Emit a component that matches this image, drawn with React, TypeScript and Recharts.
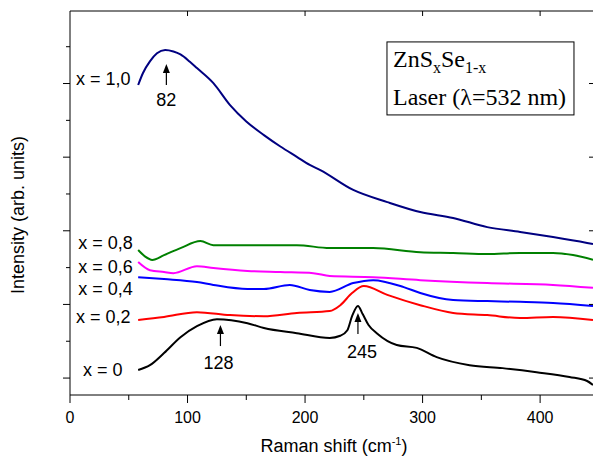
import React from 'react';
import { LineChart, Line, XAxis, YAxis, ReferenceDot, ReferenceLine } from 'recharts';

// Raman shift (cm-1) / intensity (arb. units) readings for each composition
const x10 = [
  { x: 58, y: 7.96 }, { x: 62, y: 8.28 }, { x: 68, y: 8.6 }, { x: 74, y: 8.82 }, { x: 81, y: 8.91 },
  { x: 88, y: 8.87 }, { x: 94, y: 8.79 }, { x: 102, y: 8.59 }, { x: 108, y: 8.42 }, { x: 122, y: 8.01 },
  { x: 136, y: 7.42 }, { x: 150, y: 6.97 }, { x: 165, y: 6.6 }, { x: 179, y: 6.29 }, { x: 193, y: 6.01 },
  { x: 204, y: 5.79 }, { x: 213, y: 5.65 }, { x: 241, y: 5.11 }, { x: 270, y: 4.78 }, { x: 298, y: 4.51 },
  { x: 326, y: 4.35 }, { x: 355, y: 4.1 }, { x: 383, y: 3.97 }, { x: 411, y: 3.83 }, { x: 440, y: 3.67 },
  { x: 445, y: 3.64 },
];
const x08 = [
  { x: 58, y: 3.48 }, { x: 64, y: 3.3 }, { x: 70, y: 3.21 }, { x: 80, y: 3.34 }, { x: 94, y: 3.53 },
  { x: 111, y: 3.72 }, { x: 122, y: 3.61 }, { x: 136, y: 3.61 }, { x: 165, y: 3.61 }, { x: 193, y: 3.61 },
  { x: 221, y: 3.53 }, { x: 258, y: 3.53 }, { x: 298, y: 3.42 }, { x: 326, y: 3.4 }, { x: 355, y: 3.37 },
  { x: 383, y: 3.4 }, { x: 411, y: 3.4 }, { x: 428, y: 3.34 }, { x: 445, y: 3.21 },
];
const x06 = [
  { x: 58, y: 3.15 }, { x: 68, y: 2.93 }, { x: 80, y: 2.88 }, { x: 88, y: 2.85 }, { x: 108, y: 3.04 },
  { x: 122, y: 2.99 }, { x: 151, y: 2.91 }, { x: 179, y: 2.88 }, { x: 207, y: 2.85 }, { x: 221, y: 2.77 },
  { x: 258, y: 2.74 }, { x: 298, y: 2.66 }, { x: 355, y: 2.58 }, { x: 411, y: 2.53 }, { x: 445, y: 2.45 },
];
const x04 = [
  { x: 58, y: 2.74 }, { x: 80, y: 2.69 }, { x: 108, y: 2.61 }, { x: 122, y: 2.53 }, { x: 151, y: 2.42 },
  { x: 165, y: 2.42 }, { x: 187, y: 2.53 }, { x: 204, y: 2.39 }, { x: 221, y: 2.34 }, { x: 241, y: 2.58 },
  { x: 258, y: 2.66 }, { x: 284, y: 2.47 }, { x: 298, y: 2.31 }, { x: 326, y: 2.12 }, { x: 355, y: 2.09 },
  { x: 383, y: 2.07 }, { x: 411, y: 2.04 }, { x: 445, y: 1.96 },
];
const x02 = [
  { x: 58, y: 1.58 }, { x: 80, y: 1.66 }, { x: 108, y: 1.79 }, { x: 136, y: 1.71 }, { x: 165, y: 1.68 },
  { x: 193, y: 1.77 }, { x: 221, y: 1.82 }, { x: 230, y: 1.98 }, { x: 240, y: 2.31 }, { x: 250, y: 2.5 },
  { x: 270, y: 2.26 }, { x: 298, y: 1.98 }, { x: 326, y: 1.77 }, { x: 355, y: 1.71 }, { x: 383, y: 1.63 },
  { x: 411, y: 1.66 }, { x: 445, y: 1.58 },
];
const x00 = [
  { x: 58, y: 0.22 }, { x: 68, y: 0.35 }, { x: 80, y: 0.68 }, { x: 94, y: 1.11 }, { x: 108, y: 1.41 },
  { x: 125, y: 1.6 }, { x: 151, y: 1.49 }, { x: 165, y: 1.36 }, { x: 193, y: 1.22 }, { x: 221, y: 1.09 },
  { x: 230, y: 1.15 }, { x: 236, y: 1.3 }, { x: 240, y: 1.68 }, { x: 245, y: 1.96 }, { x: 249, y: 1.74 },
  { x: 254, y: 1.44 }, { x: 261, y: 1.22 }, { x: 278, y: 0.9 }, { x: 295, y: 0.82 }, { x: 312, y: 0.57 },
  { x: 340, y: 0.35 }, { x: 368, y: 0.27 }, { x: 397, y: 0.16 }, { x: 425, y: 0.03 }, { x: 440, y: -0.08 },
  { x: 445, y: -0.19 },
];

const seriesData = [x10, x08, x06, x04, x02, x00];
const seriesColors = ['#000080', '#008000', '#FF00FF', '#0000FF', '#FF0000', '#000000'];
const seriesLabels = ['x = 1,0', 'x = 0,8', 'x = 0,6', 'x = 0,4', 'x = 0,2', 'x = 0'];
const labelX = [5, 7, 7, 7, 5, 11];
const labelY = [8.13, 3.67, 3.02, 2.42, 1.66, 0.22];

const peakShift = [82, 128, 245];
const peakTip = [8.53, 1.44, 1.77];
const peakText = ['82', '128', '245'];

const xTicks = [0, 50, 100, 150, 200, 250, 300, 350, 400];
const xTopTicks = [100, 200, 300, 400];
const yTicks = [0, 1, 2, 3, 4, 5, 6, 7, 8, 9];
const yRightTicks = [0, 2, 4, 6, 8];
const X_DOMAIN = [0, 445];
const Y_DOMAIN = [-0.46, 9.97];

const SANS = "'Liberation Sans', Arial, sans-serif";
const SERIF = "'Liberation Serif', 'Times New Roman', serif";

const BottomTick = (p: any) => {
  const major = p.payload.value % 100 === 0;
  return (
    <g>
      <line x1={p.x} x2={p.x} y1={p.y} y2={p.y + (major ? 8 : 5)} stroke="#000" />
      {major && (
        <text x={p.x} y={p.y + 28} textAnchor="middle" fontSize={16} fontFamily={SANS} fill="#000">
          {p.payload.value}
        </text>
      )}
    </g>
  );
};
const LeftTick = (p: any) => {
  const major = p.payload.value % 2 === 0;
  return <line x1={p.x} x2={p.x - (major ? 7 : 4)} y1={p.y} y2={p.y} stroke="#000" />;
};
const TopTickShape = (p: any) => <line x1={p.cx} x2={p.cx} y1={p.cy} y2={p.cy + 5} stroke="#000" />;
const RightTickShape = (p: any) => <line x1={p.cx} x2={p.cx - 4} y1={p.cy} y2={p.cy} stroke="#000" />;

const XTitle = () => (
  <text x={334} y={452} textAnchor="middle" fontSize={18} fontFamily={SANS} fill="#000">
    Raman shift (cm
    <tspan dy={-7} fontSize={11}>-1</tspan>
    <tspan dy={7}>)</tspan>
  </text>
);
const YTitle = () => (
  <text x={24} y={215} transform="rotate(-90 24 215)" textAnchor="middle" fontSize={18} fontFamily={SANS} fill="#000">
    Intensity (arb. units)
  </text>
);

const makeArrow = (text: string, off: number, dx: number) => (p: any) => (
  <g>
    <line x1={p.cx} x2={p.cx} y1={p.cy + 6} y2={p.cy + 21} stroke="#000" strokeWidth={1.2} />
    <path d={`M${p.cx},${p.cy} L${p.cx - 3.5},${p.cy + 9} L${p.cx + 3.5},${p.cy + 9} Z`} fill="#000" />
    <text x={p.cx + dx} y={p.cy + off} textAnchor="middle" fontSize={18} fontFamily={SANS} fill="#000">
      {text}
    </text>
  </g>
);
const arrowOff = [42, 43.5, 45.5];
const arrowDx = [0, -2, 4];

const makeLabel = (text: string) => (p: any) => (
  <text x={p.cx} y={p.cy + 6.5} textAnchor="start" fontSize={18} fontFamily={SANS} fill="#000">
    {text}
  </text>
);

const LegendBox = (p: any) => (
  <g>
    <rect x={p.cx} y={p.cy} width={187} height={73} fill="#fff" stroke="#000" strokeWidth={1} />
    <text x={p.cx + 6} y={p.cy + 25} fontSize={24} fontFamily={SERIF} fill="#000">
      ZnS<tspan dy={6} fontSize={16}>x</tspan>
      <tspan dy={-6}>Se</tspan>
      <tspan dy={6} fontSize={16}>1-x</tspan>
    </text>
    <text x={p.cx + 6} y={p.cy + 63} fontSize={24} fontFamily={SERIF} fill="#000">
      Laser (λ=532 nm)
    </text>
  </g>
);

export default function App() {
  return (
    <div style={{ position: 'absolute', left: 0, top: 0, background: '#fff' }}>
      <LineChart width={593} height={457} margin={{ top: 11, right: 0, bottom: 0, left: 0 }}>
        <XAxis
          xAxisId="b"
          type="number"
          dataKey="x"
          domain={X_DOMAIN}
          ticks={xTicks}
          interval={0}
          height={62}
          tickLine={false}
          tickSize={0}
          tickMargin={0}
          tick={<BottomTick />}
          stroke="#000"
          allowDataOverflow
        />
        <YAxis
          yAxisId="l"
          type="number"
          domain={Y_DOMAIN}
          ticks={yTicks}
          interval={0}
          width={70}
          tickLine={false}
          tickSize={0}
          tickMargin={0}
          tick={<LeftTick />}
          stroke="#000"
          allowDataOverflow
        />
        {/* top frame line */}
        <ReferenceLine xAxisId="b" yAxisId="l" y={Y_DOMAIN[1]} stroke="#000" strokeWidth={1} ifOverflow="visible" />
        {xTopTicks.map((t) => (
          <ReferenceDot key={'tt' + t} xAxisId="b" yAxisId="l" x={t} y={Y_DOMAIN[1]} r={0} ifOverflow="visible" shape={TopTickShape} />
        ))}
        {yRightTicks.map((t) => (
          <ReferenceDot key={'rt' + t} xAxisId="b" yAxisId="l" x={X_DOMAIN[1]} y={t} r={0} ifOverflow="visible" shape={RightTickShape} />
        ))}
        {seriesData.map((d, i) => (
          <Line
            key={seriesLabels[i]}
            xAxisId="b"
            yAxisId="l"
            data={d}
            dataKey="y"
            type="monotone"
            stroke={seriesColors[i]}
            strokeWidth={2}
            dot={false}
            isAnimationActive={false}
          />
        ))}
        {seriesLabels.map((t, i) => (
          <ReferenceDot
            key={'lab' + i}
            xAxisId="b"
            yAxisId="l"
            x={labelX[i]}
            y={labelY[i]}
            r={0}
            ifOverflow="visible"
            shape={makeLabel(t)}
          />
        ))}
        {peakShift.map((s, i) => (
          <ReferenceDot
            key={'pk' + i}
            xAxisId="b"
            yAxisId="l"
            x={s}
            y={peakTip[i]}
            r={0}
            ifOverflow="visible"
            shape={makeArrow(peakText[i], arrowOff[i], arrowDx[i])}
          />
        ))}
        <ReferenceDot xAxisId="b" yAxisId="l" x={269.7} y={9.13} r={0} ifOverflow="visible" shape={LegendBox} />
        <ReferenceDot xAxisId="b" yAxisId="l" x={0} y={0} r={0} ifOverflow="visible" shape={() => (
          <g>
            <XTitle />
            <YTitle />
          </g>
        )} />
      </LineChart>
    </div>
  );
}
